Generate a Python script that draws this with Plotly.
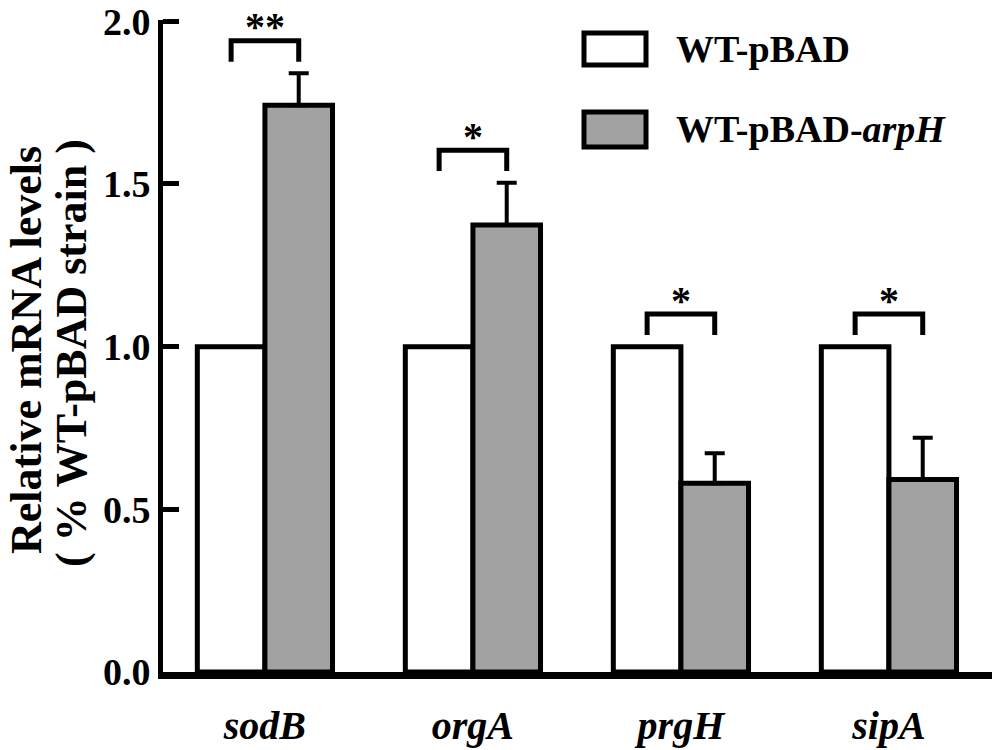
import plotly.graph_objects as go

# datos
genes = ['sodB', 'orgA', 'prgH', 'sipA']
wt_pbad = [1.0, 1.0, 1.0, 1.0]
wt_arph = [1.742, 1.374, 0.58, 0.592]
wt_arph_err = [0.098, 0.13, 0.092, 0.128]
signif = ['**', '*', '*', '*']

ticks_y = [0.0, 0.5, 1.0, 1.5, 2.0]

FONT = 'Liberation Serif'
PAGE = 8  # margen por defecto del <body>
W, H = 992, 742
ML, MR, MT, MB = 155, 5, 12, 78

pos = list(range(len(genes)))

fig = go.Figure()

fig.add_trace(go.Bar(
    x=pos, y=wt_pbad, name='WT-pBAD',
    marker=dict(color='white', line=dict(color='black', width=5)),
))
fig.add_trace(go.Bar(
    x=pos, y=wt_arph, name='WT-pBAD-arpH',
    marker=dict(color='#a2a2a2', line=dict(color='black', width=5)),
    error_y=dict(type='data', array=wt_arph_err, arrayminus=[0] * len(genes),
                 symmetric=False, color='black', thickness=4, width=10),
))

# corchetes de significancia (posiciones a partir de los datos)
off = 0.1625
for i, s in enumerate(signif):
    top = max(wt_pbad[i], wt_arph[i] + wt_arph_err[i])
    yb = top + 0.1
    yl = yb - 0.064
    fig.add_trace(go.Scatter(
        x=[i - off, i - off, i + off, i + off],
        y=[yl, yb, yb, yl],
        mode='lines', line=dict(color='black', width=5),
        showlegend=False, hoverinfo='skip',
    ))
    fig.add_annotation(
        x=i, y=yb, text='<b>' + s + '</b>', showarrow=False,
        yanchor='middle', yshift=14,
        font=dict(family=FONT, size=40, color='black'),
    )

# leyenda manual con rectángulos grandes
pw = W - ML - MR
ph = H - MT - MB
def px(x):
    return (x - PAGE - ML) / pw
def py(y):
    return (H - MB - (y - PAGE)) / ph

legend_items = [('white', '<b>WT-pBAD</b>', 33, 65),
                ('#a2a2a2', '<b>WT-pBAD-<i>arpH</i></b>', 112, 147)]
for col, txt, y0, y1 in legend_items:
    fig.add_shape(type='rect', xref='paper', yref='paper',
                  x0=px(584), x1=px(646), y0=py(y1), y1=py(y0),
                  fillcolor=col, line=dict(color='black', width=5))
    fig.add_annotation(xref='paper', yref='paper', x=px(674), y=py((y0 + y1) / 2),
                       text=txt, showarrow=False, xanchor='left', yanchor='middle',
                       font=dict(family=FONT, size=38, color='black'))

# titulo del eje Y en dos líneas
fig.add_annotation(xref='paper', yref='paper', x=px(26), y=py(350),
                   text='<b>Relative mRNA levels</b>', textangle=-90, showarrow=False,
                   xanchor='center', yanchor='middle',
                   font=dict(family=FONT, size=44, color='black'))
fig.add_annotation(xref='paper', yref='paper', x=px(71), y=py(353),
                   text='<b>( % WT-pBAD strain )</b>', textangle=-90, showarrow=False,
                   xanchor='center', yanchor='middle',
                   font=dict(family=FONT, size=44, color='black'))

fig.update_layout(
    width=W, height=H,
    margin=dict(l=ML, r=MR, t=MT, b=MB),
    barmode='group', bargap=0.35, bargroupgap=0,
    plot_bgcolor='white', paper_bgcolor='white',
    showlegend=False,
)

fig.update_xaxes(
    range=[-0.49, 3.51], showgrid=False, zeroline=False, automargin=False,
    showline=True, linecolor='black', linewidth=7,
    tickvals=pos, ticktext=genes, ticks='', ticklabelstandoff=12,
    tickfont=dict(family=FONT, size=40, color='black', weight='bold', style='italic'),
)
fig.update_yaxes(
    range=[0, 2.004], showgrid=False, zeroline=False, automargin=False,
    showline=True, linecolor='black', linewidth=5,
    ticks='inside', ticklen=16, tickwidth=5, tickcolor='black',
    tickvals=ticks_y, tickformat='.1f', ticklabeloverflow='allow',
    tickfont=dict(family=FONT, size=38, color='black', weight='bold'),
)

fig.write_html('out.html')
